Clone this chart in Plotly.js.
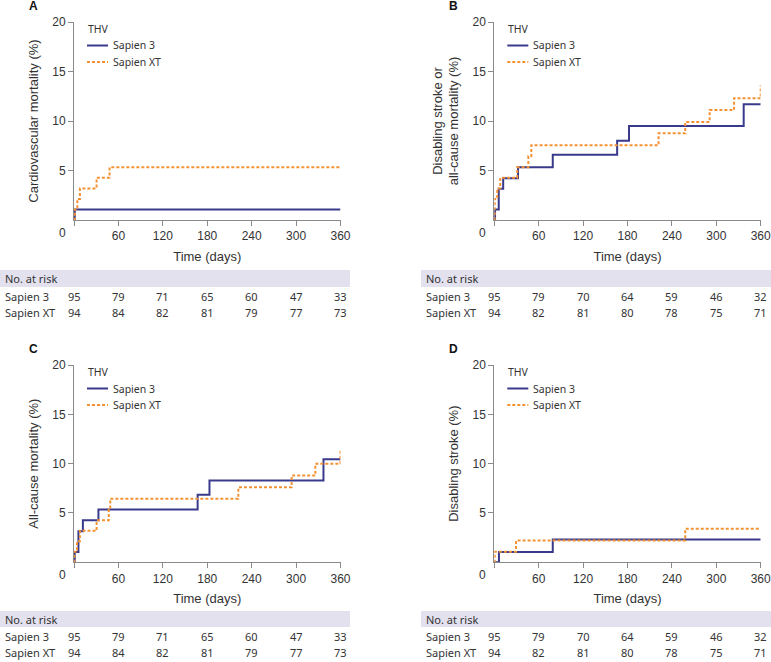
<!DOCTYPE html>
<html>
<head>
<meta charset="utf-8">
<script src="https://cdn.plot.ly/plotly-3.0.1.min.js"></script>
<style>html,body{margin:0;padding:0;background:#fff;}#chart{width:771px;height:662px;}</style>
</head>
<body>
<div id="chart"></div>
<script>
// ---- Data ----
const seriesNames = ["Sapien 3", "Sapien XT"];
const legendTitle = "THV";
const riskDays = [0, 60, 120, 180, 240, 300, 360];
const xTicks = [0, 60, 120, 180, 240, 300, 360];
const yTicks = [5, 10, 15, 20];

// Panel A: Cardiovascular mortality
const aS3Days = [0, 1, 360];
const aS3Pct  = [0, 1.05, 1.05];
const aXTDays = [0, 1, 4.5, 8, 30.5, 48, 360];
const aXTPct  = [0, 1.06, 2.13, 3.19, 4.26, 5.32, 5.32];

// Panel B: Disabling stroke or all-cause mortality
const bS3Days = [0, 1, 6, 12, 32, 79, 166, 182, 337, 360];
const bS3Pct  = [0, 1.05, 3.16, 4.21, 5.32, 6.6, 8.0, 9.5, 11.7, 11.7];
const bXTDays = [0, 0.5, 4, 8, 31, 46, 50, 222, 258, 291, 324, 360];
const bXTPct  = [0, 2.13, 3.19, 4.26, 5.32, 6.45, 7.55, 8.75, 9.9, 11.1, 12.3, 13.6];

// Panel C: All-cause mortality
const cS3Days = [0, 1, 6, 12, 33, 167, 183, 337, 360];
const cS3Pct  = [0, 1.05, 3.16, 4.25, 5.35, 6.85, 8.3, 10.45, 10.45];
const cXTDays = [0, 0.5, 4, 8, 30.5, 47, 49, 222, 294, 326, 360];
const cXTPct  = [0, 1.06, 2.13, 3.19, 4.26, 5.32, 6.45, 7.6, 8.8, 10.0, 11.3];

// Panel D: Disabling stroke
const dS3Days = [0, 6.3, 79, 360];
const dS3Pct  = [0, 1.05, 2.3, 2.3];
const dXTDays = [0, 0.5, 29.3, 258, 360];
const dXTPct  = [0, 1.06, 2.2, 3.4, 3.4];

// Numbers at risk
const riskAC_S3 = [95, 79, 71, 65, 60, 47, 33];
const riskAC_XT = [94, 84, 82, 81, 79, 77, 73];
const riskBD_S3 = [95, 79, 70, 64, 59, 46, 32];
const riskBD_XT = [94, 82, 81, 80, 78, 75, 71];

const panelLetters = ["A", "B", "C", "D"];
const yTitles = ["Cardiovascular mortality (%)", "Disabling stroke or<br>all-cause mortality (%)", "All-cause mortality (%)", "Disabling stroke (%)"];

// ---- Styling ----
const W = 771, H = 662;
const colS3 = "#3a3a8c";
const colXT = "#f39233";
const axisCol = "#8a8a8a";
const textCol = "#333333";
const bandCol = "#e3e1ee";
const tickFont = {family: "Liberation Sans, Arial, sans-serif", size: 12, color: textCol};
const titleFont = {family: "Liberation Sans, Arial, sans-serif", size: 13, color: textCol};
const tblFont = {family: "Noto Sans, sans-serif", size: 11, color: textCol};
const legFont = {family: "Noto Sans, sans-serif", size: 10.5, color: textCol};

const px = v => v / W;
const py = v => 1 - v / H;

const panels = [
  {s3d: aS3Days, s3v: aS3Pct, xtd: aXTDays, xtv: aXTPct, xa: "x", ya: "y", xl: 74, xr: 340.5, yt: 22, yb: 220, risk: [riskAC_S3, riskAC_XT]},
  {s3d: bS3Days, s3v: bS3Pct, xtd: bXTDays, xtv: bXTPct, xa: "x2", ya: "y2", xl: 494.3, xr: 760.7, yt: 22, yb: 220, risk: [riskBD_S3, riskBD_XT]},
  {s3d: cS3Days, s3v: cS3Pct, xtd: cXTDays, xtv: cXTPct, xa: "x3", ya: "y3", xl: 74, xr: 340.5, yt: 365, yb: 562.3, risk: [riskAC_S3, riskAC_XT]},
  {s3d: dS3Days, s3v: dS3Pct, xtd: dXTDays, xtv: dXTPct, xa: "x4", ya: "y4", xl: 494.3, xr: 760.7, yt: 365, yb: 562.3, risk: [riskBD_S3, riskBD_XT]}
];

// table geometry (pixels)
const tables = [
  {bandL: 0, bandR: 350, bandT: 270, bandB: 287, head: 278.5, r1: 296, r2: 312, lblX: 4},
  {bandL: 421, bandR: 771, bandT: 270, bandB: 287, head: 278.5, r1: 296, r2: 312, lblX: 425},
  {bandL: 0, bandR: 350, bandT: 611, bandB: 627, head: 619, r1: 636, r2: 652, lblX: 4},
  {bandL: 421, bandR: 771, bandT: 611, bandB: 627, head: 619, r1: 636, r2: 652, lblX: 425}
];

const traces = [];
const layout = {
  width: W, height: H,
  margin: {l: 0, r: 0, t: 0, b: 0},
  paper_bgcolor: "#ffffff", plot_bgcolor: "#ffffff",
  showlegend: false,
  font: tickFont,
  shapes: [], annotations: []
};

panels.forEach((p, i) => {
  const sfx = i === 0 ? "" : String(i + 1);
  traces.push({
    type: "scatter", mode: "lines", x: p.s3d, y: p.s3v, name: seriesNames[0],
    line: {shape: "hv", color: colS3, width: 2}, xaxis: p.xa, yaxis: p.ya, hoverinfo: "skip"
  });
  traces.push({
    type: "scatter", mode: "lines", x: p.xtd, y: p.xtv, name: seriesNames[1],
    line: {shape: "hv", color: colXT, width: 2, dash: "3px,2px"}, xaxis: p.xa, yaxis: p.ya, hoverinfo: "skip"
  });
  layout["xaxis" + sfx] = {
    domain: [px(p.xl), px(p.xr)], anchor: p.ya, range: [0, 360],
    tickvals: xTicks, ticktext: xTicks.map(v => v === 0 ? "" : String(v)),
    ticks: "outside", ticklen: 5, tickcolor: axisCol, tickwidth: 1,
    showline: true, linecolor: axisCol, linewidth: 1, showgrid: false, zeroline: false,
    tickfont: tickFont, ticklabeloverflow: "allow", fixedrange: true,
    title: {text: "Time (days)", font: titleFont, standoff: 9}
  };
  layout["yaxis" + sfx] = {
    domain: [py(p.yb), py(p.yt)], anchor: p.xa, range: [0, 20],
    tickvals: yTicks, ticks: "outside", ticklen: 5, tickcolor: axisCol, tickwidth: 1,
    showline: true, linecolor: axisCol, linewidth: 1, showgrid: false, zeroline: false,
    tickfont: tickFont, ticklabeloverflow: "allow", fixedrange: true,
    title: {text: yTitles[i], font: titleFont, standoff: 10}
  };
  // legend drawn in paper space
  const lx = p.xl + 13;
  layout.annotations.push({xref: "paper", yref: "paper", x: px(lx), y: py(p.yt + 6.5), text: legendTitle,
    showarrow: false, xanchor: "left", yanchor: "middle", font: legFont, xshift: -1});
  [[colS3, "solid", 23.5, seriesNames[0]], [colXT, "3px,2px", 40, seriesNames[1]]].forEach(e => {
    layout.shapes.push({type: "line", xref: "paper", yref: "paper", x0: px(lx), x1: px(lx + 21),
      y0: py(p.yt + e[2]), y1: py(p.yt + e[2]), line: {color: e[0], width: 2, dash: e[1]}});
    layout.annotations.push({xref: "paper", yref: "paper", x: px(lx + 25), y: py(p.yt + e[2]), text: e[3],
      showarrow: false, xanchor: "left", yanchor: "middle", font: legFont, xshift: -1});
  });
  // corner "0"
  layout.annotations.push({
    xref: "paper", yref: "paper", x: px(p.xl - 12), y: py(p.yb + 13),
    text: "0", showarrow: false, font: tickFont, xanchor: "center", yanchor: "middle"
  });
  // panel letter
  layout.annotations.push({
    xref: "paper", yref: "paper", x: px(p.xl - 41), y: py(p.yt - 16),
    text: "<b>" + panelLetters[i] + "</b>", showarrow: false,
    font: {family: "Liberation Sans, Arial, sans-serif", size: 12, color: "#111"},
    xanchor: "center", yanchor: "middle"
  });
  // risk table
  const t = tables[i];
  layout.shapes.push({
    type: "rect", xref: "paper", yref: "paper", x0: px(t.bandL), x1: px(t.bandR),
    y0: py(t.bandB), y1: py(t.bandT), fillcolor: bandCol, line: {width: 0}, layer: "below"
  });
  layout.annotations.push({xref: "paper", yref: "paper", x: px(t.lblX), y: py(t.head), text: "No. at risk",
    showarrow: false, xanchor: "left", yanchor: "middle", font: tblFont, xshift: -1});
  layout.annotations.push({xref: "paper", yref: "paper", x: px(t.lblX), y: py(t.r1), text: seriesNames[0],
    showarrow: false, xanchor: "left", yanchor: "middle", font: tblFont, xshift: -1});
  layout.annotations.push({xref: "paper", yref: "paper", x: px(t.lblX), y: py(t.r2), text: seriesNames[1],
    showarrow: false, xanchor: "left", yanchor: "middle", font: tblFont, xshift: -1});
  riskDays.forEach((d, k) => {
    layout.annotations.push({xref: p.xa, yref: "paper", x: d, y: py(t.r1), text: String(p.risk[0][k]),
      showarrow: false, xanchor: "center", yanchor: "middle", font: tblFont});
    layout.annotations.push({xref: p.xa, yref: "paper", x: d, y: py(t.r2), text: String(p.risk[1][k]),
      showarrow: false, xanchor: "center", yanchor: "middle", font: tblFont});
  });
});

Plotly.newPlot("chart", traces, layout, {displayModeBar: false, staticPlot: true});
</script>
</body>
</html>
